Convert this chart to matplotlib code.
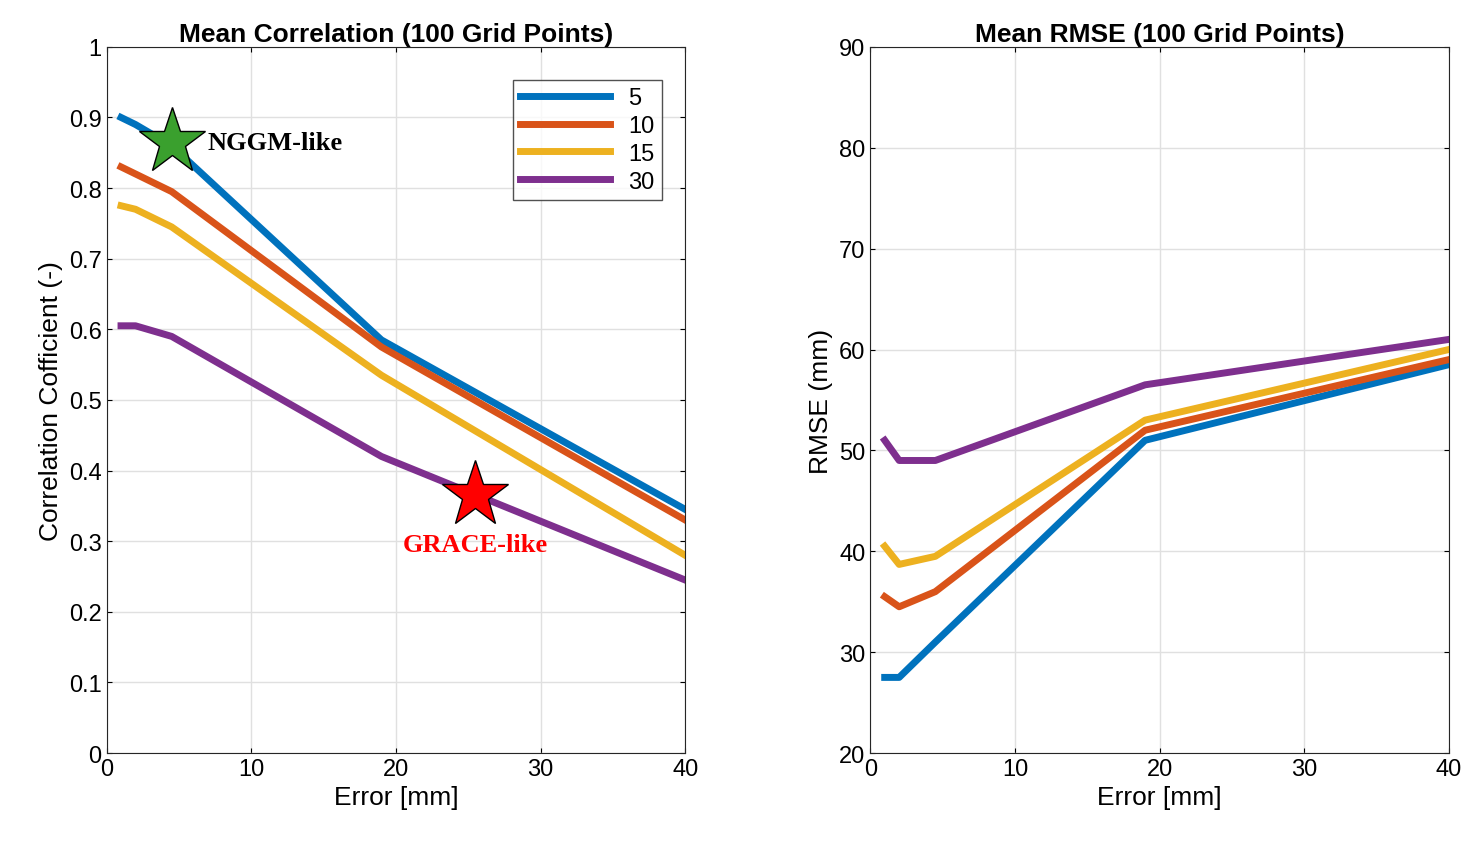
import matplotlib.pyplot as plt

ERROR_MM = [1, 2, 4.5, 19, 40]
LABELS = ["5", "10", "15", "30"]
COLOURS = ["#0072BD", "#D95319", "#EDB120", "#7E2F8E"]

CORR = [
    [0.90, 0.89, 0.86, 0.585, 0.345],
    [0.83, 0.82, 0.795, 0.575, 0.33],
    [0.775, 0.77, 0.745, 0.535, 0.28],
    [0.605, 0.605, 0.59, 0.42, 0.245],
]
RMSE = [
    [27.5, 27.5, 31.0, 51.0, 58.5],
    [35.5, 34.5, 36.0, 52.0, 59.0],
    [40.5, 38.7, 39.5, 53.0, 60.0],
    [51.0, 49.0, 49.0, 56.5, 61.0],
]

plt.rcParams["font.family"] = ["Liberation Sans", "DejaVu Sans"]
fig = plt.figure(figsize=(14.8, 8.54), dpi=100)
ax1 = fig.add_axes([0.072, 0.117, 0.391, 0.827])
ax2 = fig.add_axes([0.588, 0.117, 0.391, 0.827])

for ax, data in ((ax1, CORR), (ax2, RMSE)):
    for series, colour, label in zip(data, COLOURS, LABELS):
        ax.plot(ERROR_MM, series, color=colour, lw=5, label=label)
    ax.set_xlim(0, 40)
    ax.set_xticks(range(0, 41, 10))
    ax.grid(True, color="#e0e0e0", lw=1)
    ax.tick_params(labelsize=17, direction="in", top=True, right=True)
    ax.set_xlabel("Error [mm]", fontsize=19)
    for s in ax.spines.values():
        s.set_color("#262626")

ax1.set_ylim(0, 1)
ax1.set_yticks([i / 10 for i in range(11)])
ax1.set_yticklabels(["0", "0.1", "0.2", "0.3", "0.4", "0.5", "0.6", "0.7", "0.8", "0.9", "1"])
ax1.set_ylabel("Correlation Cofficient (-)", fontsize=19)
ax1.set_title("Mean Correlation (100 Grid Points)", fontsize=19, fontweight="bold", pad=4)
leg = ax1.legend(loc="upper right", bbox_to_anchor=(0.98, 0.97), fontsize=17,
                 handlelength=3.8, fancybox=False, edgecolor="#262626",
                 borderpad=0.3, labelspacing=0.25, markerfirst=True)

ax1.plot(4.5, 0.865, marker="*", ms=50, color="#3aa02e", mec="black", mew=1, zorder=5)
ax1.text(7, 0.865, "NGGM-like", fontsize=19, fontweight="bold",
         family=["Liberation Serif"], va="center")
ax1.plot(25.5, 0.365, marker="*", ms=50, color="red", mec="black", mew=1, zorder=5)
ax1.text(25.5, 0.295, "GRACE-like", fontsize=19, fontweight="bold", color="red",
         family=["Liberation Serif"], ha="center", va="center")

ax2.set_ylim(20, 90)
ax2.set_yticks(range(20, 91, 10))
ax2.set_ylabel("RMSE (mm)", fontsize=19)
ax2.set_title("Mean RMSE (100 Grid Points)", fontsize=19, fontweight="bold", pad=4)

fig.savefig("out.png", dpi=100)
